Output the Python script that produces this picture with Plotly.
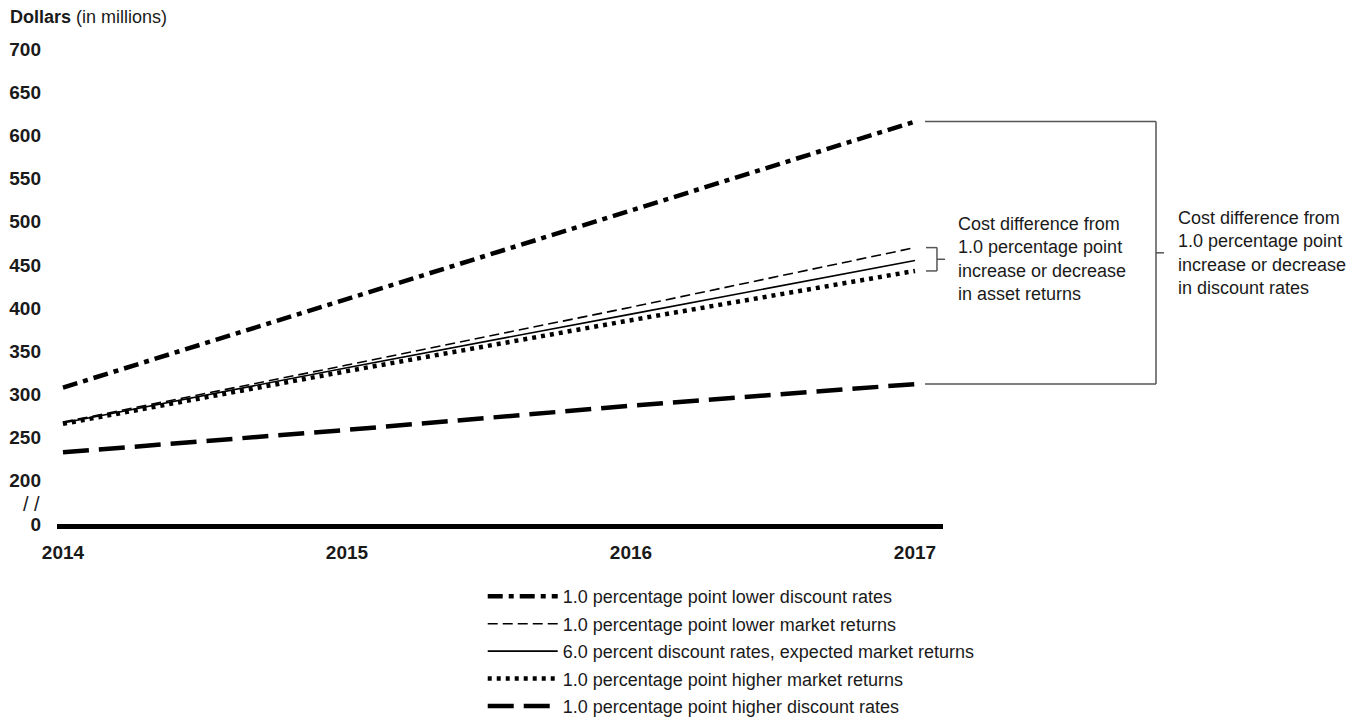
import plotly.graph_objects as go

years = [2014, 2015, 2016, 2017]
lower_discount = [308, 410, 513, 616]
lower_market = [268, 334, 401, 470]
expected = [267, 331, 393, 455]
higher_market = [266, 327, 386, 443]
higher_discount = [233, 259, 287, 312]

names = [
    "1.0 percentage point lower discount rates",
    "1.0 percentage point lower market returns",
    "6.0 percent discount rates, expected market returns",
    "1.0 percentage point higher market returns",
    "1.0 percentage point higher discount rates",
]
series = [lower_discount, lower_market, expected, higher_market, higher_discount]
styles = [
    dict(width=4.5, dash="15px,6px,5px,6px"),
    dict(width=1.6, dash="10px,5px"),
    dict(width=1.6, dash="solid"),
    dict(width=4.5, dash="4px,5px"),
    dict(width=4.5, dash="26px,10px"),
]

tick_vals = [150, 200, 250, 300, 350, 400, 450, 500, 550, 600, 650, 700]
tick_text = ["0", "200", "250", "300", "350", "400", "450", "500", "550", "600", "650", "700"]

FONT = "Liberation Sans, Arial, sans-serif"

fig = go.Figure()
for i, (nm, ys, st) in enumerate(zip(names, series, styles)):
    fig.add_trace(go.Scatter(x=years, y=ys, name=nm, mode="lines",
                             line=dict(color="black", **st),
                             legendgroup=str(i)))

fig.update_layout(
    width=1350, height=716,
    margin=dict(l=49, r=415, t=37, b=200, autoexpand=False),
    paper_bgcolor="white", plot_bgcolor="white",
    font=dict(family=FONT, size=18, color="#1a1a1a"),
    showlegend=True,
    legend=dict(x=0.4805, xanchor="left", y=-0.113, yanchor="top",
                traceorder="grouped", tracegroupgap=1, itemwidth=70,
                font=dict(size=18), bgcolor="rgba(0,0,0,0)"),
    xaxis=dict(range=[2013.979, 2017.0986], tickvals=years,
               ticktext=[str(y) for y in years], showgrid=False, zeroline=False,
               showline=True, linecolor="black", linewidth=5, ticks="",
               tickfont=dict(size=19, weight="bold", color="#1a1a1a"),
               ticklabelstandoff=7),
    yaxis=dict(range=[150, 704.6], tickvals=tick_vals, ticktext=tick_text,
               showgrid=False, zeroline=False, showline=False, ticks="",
               tickfont=dict(size=19, weight="bold", color="#1a1a1a"),
               ticklabelstandoff=15),
)

# axis title
fig.add_annotation(xref="paper", yref="paper", x=-0.055, y=1.058, xanchor="left",
                   yanchor="middle", showarrow=False,
                   text="<b>Dollars</b> (in millions)", font=dict(size=18))
# axis break mark
fig.add_annotation(xref="paper", yref="y", x=-0.017, y=173, xanchor="right",
                   yanchor="middle", showarrow=False, text="/ /",
                   font=dict(size=20))

# outer bracket (discount rates)
top_o, bot_o = lower_discount[-1], higher_discount[-1]
mid_o = (top_o + bot_o) / 2
bc = "#555555"
for x0, y0, x1, y1 in [
    (0.9797, top_o, 1.2404, top_o),
    (1.2404, top_o, 1.2404, bot_o),
    (0.9797, bot_o, 1.2404, bot_o),
    (1.2404, mid_o, 1.2494, mid_o),
]:
    fig.add_shape(type="line", xref="paper", yref="y", x0=x0, y0=y0, x1=x1, y1=y1,
                  line=dict(color=bc, width=1.5))
fig.add_annotation(xref="paper", yref="y", x=1.263, y=mid_o, xanchor="left",
                   yanchor="middle", align="left", showarrow=False,
                   text="Cost difference from<br>1.0 percentage point<br>increase or decrease<br>in discount rates",
                   font=dict(size=18))

# inner bracket (asset returns)
top_i, bot_i = lower_market[-1], higher_market[-1]
mid_i = (top_i + bot_i) / 2
for x0, y0, x1, y1 in [
    (0.9808, top_i, 0.9932, top_i),
    (0.9932, top_i, 0.9932, bot_i),
    (0.9808, bot_i, 0.9932, bot_i),
    (0.9932, mid_i, 1.0023, mid_i),
]:
    fig.add_shape(type="line", xref="paper", yref="y", x0=x0, y0=y0, x1=x1, y1=y1,
                  line=dict(color=bc, width=1.5))
fig.add_annotation(xref="paper", yref="y", x=1.0147, y=mid_i, xanchor="left",
                   yanchor="middle", align="left", showarrow=False,
                   text="Cost difference from<br>1.0 percentage point<br>increase or decrease<br>in asset returns",
                   font=dict(size=18))

fig.write_html("out.html")
